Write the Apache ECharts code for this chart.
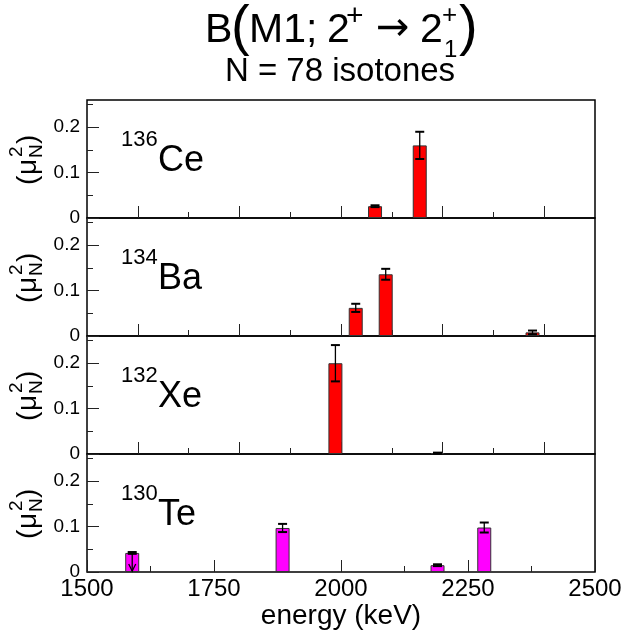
<!DOCTYPE html>
<html><head><meta charset="utf-8">
<script src="https://cdn.jsdelivr.net/npm/echarts@6/dist/echarts.min.js"></script>
<style>html,body{margin:0;padding:0;background:#fff}#chart{width:624px;height:636px}</style>
</head><body><div id="chart"></div>
<script>
const FONT = '"Liberation Sans", Arial, Helvetica, sans-serif';

// ---- tick values ----
const xMajorTopTicks = [1600, 1800, 2000, 2200, 2400];
const xMinorTopTicks = [1700, 1900, 2100, 2300];
const xMajorBottomTicks = [1500, 1750, 2000, 2250, 2500];
const xMinorBottomTicks = [1625, 1875, 2125, 2375];
const yMajorTicks = [0, 0.1, 0.2];
const yMinorTicks = [0.05, 0.15, 0.25];

// ---- isotones ----
const massNumbers = ['136', '134', '132', '130'];
const elementSymbols = ['Ce', 'Ba', 'Xe', 'Te'];

// ---- data: energy (keV), B(M1) (muN^2), error ----
const ceEnergy = [2067, 2155];
const ceValue  = [0.026, 0.160];
const ceError  = [0.002, 0.030];

const baEnergy = [2029, 2088, 2377];
const baValue  = [0.062, 0.136, 0.008];
const baError  = [0.009, 0.012, 0.004];

const xeEnergy = [1989, 2190];
const xeValue  = [0.200, 0.002];
const xeError  = [0.040, 0.001];

const teEnergy = [1589, 1885, 2190, 2282];
const teValue  = [0.042, 0.097, 0.015, 0.098];
const teError  = [0.002, 0.009, 0.002, 0.011];
const teUpperLimit = [1, 0, 0, 0];

const panelColors = ['#ff0000', '#ff0000', '#ff0000', '#ff00ff'];

const panelData = [
  { e: ceEnergy, v: ceValue, err: ceError, lim: ceEnergy.map(() => 0) },
  { e: baEnergy, v: baValue, err: baError, lim: baEnergy.map(() => 0) },
  { e: xeEnergy, v: xeValue, err: xeError, lim: xeEnergy.map(() => 0) },
  { e: teEnergy, v: teValue, err: teError, lim: teUpperLimit }
];

const LEFT = 87, TOP = 100, W = 508, H = 118;

const grids = [], xAxes = [], yAxes = [], series = [], graphic = [];

function tickAxisX(i, values, len, showLabels) {
  return {
    type: 'value', gridIndex: i, position: 'bottom', min: 1500, max: 2500,
    axisLine: { show: false }, splitLine: { show: false },
    axisTick: { show: true, inside: true, length: len, customValues: values,
      lineStyle: { color: '#222', width: 1 } },
    axisLabel: showLabels ? { show: true, customValues: xMajorBottomTicks, fontSize: 24,
      fontFamily: FONT, color: '#000', margin: 5, formatter: (v) => String(v) } : { show: false },
    name: showLabels ? 'energy (keV)' : '',
    nameLocation: 'middle', nameGap: 29,
    nameTextStyle: { fontSize: 28, fontFamily: FONT, color: '#000' }
  };
}

function tickAxisY(i, values, len, showLabels) {
  return {
    type: 'value', gridIndex: i, position: 'left', min: 0, max: 0.26,
    axisLine: { show: false }, splitLine: { show: false },
    axisTick: { show: true, inside: true, length: len, customValues: values,
      lineStyle: { color: '#222', width: 1 } },
    axisLabel: showLabels ? { show: true, customValues: yMajorTicks, fontSize: 19,
      fontFamily: FONT, color: '#000', margin: 7, formatter: (v) => String(v) } : { show: false }
  };
}

function renderErr(params, api) {
  const x = api.value(0), lo = api.value(1), hi = api.value(2), lim = api.value(3), val = api.value(4);
  const pTop = api.coord([x, hi]);
  const pBot = api.coord([x, lo]);
  const cap = 4.5;
  const children = [
    { type: 'line', shape: { x1: pTop[0], y1: pTop[1], x2: pBot[0], y2: pBot[1] }, style: { stroke: '#000', lineWidth: 1.3 } },
    { type: 'line', shape: { x1: pTop[0] - cap, y1: pTop[1], x2: pTop[0] + cap, y2: pTop[1] }, style: { stroke: '#000', lineWidth: 2 } },
    { type: 'line', shape: { x1: pBot[0] - cap, y1: pBot[1], x2: pBot[0] + cap, y2: pBot[1] }, style: { stroke: '#000', lineWidth: 2 } }
  ];
  if (lim) {
    const pv = api.coord([x, val]);
    const p0 = api.coord([x, 0]);
    const tipY = p0[1] - 1;
    children.push({ type: 'line', shape: { x1: pv[0], y1: pv[1], x2: pv[0], y2: tipY }, style: { stroke: '#000', lineWidth: 1.3 } });
    children.push({ type: 'polyline', shape: { points: [[pv[0] - 3.5, tipY - 7], [pv[0], tipY], [pv[0] + 3.5, tipY - 7]] }, style: { stroke: '#000', lineWidth: 1.3, fill: null } });
  }
  return { type: 'group', children };
}

for (let i = 0; i < 4; i++) {
  const top = TOP + H * i;
  const isBottom = i === 3;
  grids.push({ left: LEFT, top: top, width: W, height: H, show: true, outerBoundsMode: 'none',
    containLabel: false, borderColor: '#000', borderWidth: 1.5, backgroundColor: 'transparent' });

  if (isBottom) {
    xAxes.push(tickAxisX(i, xMajorBottomTicks, 12, true));
    xAxes.push(tickAxisX(i, xMinorBottomTicks, 6, false));
  } else {
    xAxes.push(tickAxisX(i, xMajorTopTicks, 12, false));
    xAxes.push(tickAxisX(i, xMinorTopTicks, 6, false));
  }
  yAxes.push(tickAxisY(i, yMajorTicks, 12, true));
  yAxes.push(tickAxisY(i, yMinorTicks, 6, false));

  const d = panelData[i];
  series.push({
    type: 'bar', xAxisIndex: 2 * i, yAxisIndex: 2 * i, barWidth: 14,
    data: d.e.map((e, k) => [e, d.v[k]]),
    itemStyle: { color: panelColors[i], borderColor: '#333', borderWidth: 1 },
    z: 2
  });
  series.push({
    type: 'custom', xAxisIndex: 2 * i, yAxisIndex: 2 * i,
    data: d.e.map((e, k) => [e, d.v[k] - d.err[k], d.v[k] + d.err[k], d.lim[k], d.v[k]]),
    encode: { x: 0, y: [1, 2] },
    renderItem: renderErr, z: 5, clip: false
  });

  // nucleus labels
  graphic.push({ type: 'text', x: 121, y: top + 40, style: { text: massNumbers[i], fontSize: 22, fontFamily: FONT, fill: '#000', align: 'left', verticalAlign: 'middle' } });
  graphic.push({ type: 'text', x: 158, y: top + 61, style: { text: elementSymbols[i], fontSize: 36, fontFamily: FONT, fill: '#000', align: 'left', verticalAlign: 'middle' } });

  // y-axis unit label, rotated
  graphic.push({ type: 'group', x: 28, y: top + H / 2 - 2, rotation: Math.PI / 2, children: [
    { type: 'text', x: -28, y: 0, style: { text: '(', fontSize: 28, fontFamily: FONT, fill: '#000', align: 'left', verticalAlign: 'middle' } },
    { type: 'text', x: -18, y: 0, style: { text: 'μ', fontSize: 28, fontFamily: FONT, fill: '#000', align: 'left', verticalAlign: 'middle' } },
    { type: 'text', x: -1, y: 9, style: { text: 'N', fontSize: 19, fontFamily: FONT, fill: '#000', align: 'left', verticalAlign: 'middle' } },
    { type: 'text', x: 0, y: -11, style: { text: '2', fontSize: 19, fontFamily: FONT, fill: '#000', align: 'left', verticalAlign: 'middle' } },
    { type: 'text', x: 13, y: 0, style: { text: ')', fontSize: 28, fontFamily: FONT, fill: '#000', align: 'left', verticalAlign: 'middle' } }
  ]});
}

// title pieces
function t(text, x, y, size, fam) {
  return { type: 'text', x: x, y: y, style: { text: text, fontSize: size, fontFamily: fam || FONT, fill: '#000', align: 'left', verticalAlign: 'middle' } };
}
graphic.push(t('B', 205, 31, 41));
graphic.push(t('(', 231, 29, 56));
graphic.push(t('M1;', 249, 31, 41));
graphic.push(t('2', 327, 31, 41));
graphic.push(t('+', 346, 17, 30));
graphic.push(t('→', 376, 30, 40, '"DejaVu Sans", sans-serif'));
graphic.push(t('2', 420, 31, 41));
graphic.push(t('+', 442, 16, 26));
graphic.push(t('1', 444, 50, 24));
graphic.push(t(')', 459, 29, 56));
graphic.push({ type: 'text', x: 340, y: 72, style: { text: 'N = 78 isotones', fontSize: 33, fontFamily: FONT, fill: '#000', align: 'center', verticalAlign: 'middle' } });

const chart = echarts.init(document.getElementById('chart'), null, { renderer: 'canvas' });
chart.setOption({ animation: false, backgroundColor: '#fff', grid: grids, xAxis: xAxes, yAxis: yAxes, series: series, graphic: graphic });
</script></body></html>
